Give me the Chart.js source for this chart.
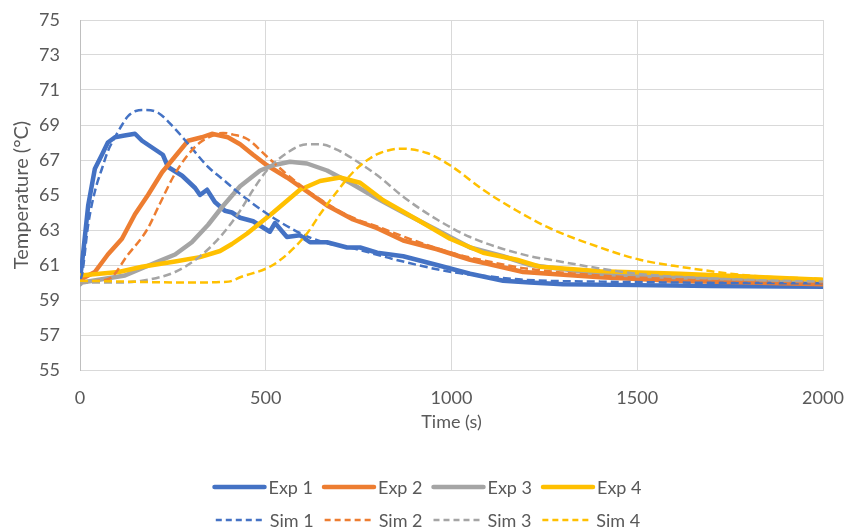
<!DOCTYPE html>
<html>
<head>
<meta charset="utf-8">
<script src="https://cdn.jsdelivr.net/npm/chart.js@4.4.1/dist/chart.umd.min.js"></script>
<style>
  html, body { margin: 0; padding: 0; background: #fff; }
</style>
</head>
<body>
<canvas id="chart-temperature" width="846" height="532"></canvas>
<script>
// values (time in s, temperature in °C)
const exp1Time = [0, 5, 22, 40, 59, 75, 94, 120, 148, 167, 202, 223, 237, 275, 310, 323, 342, 363, 390, 409, 431, 466, 511, 525, 557, 592, 619, 665, 719, 754, 800, 870, 961, 1050, 1139, 1211, 1300, 1500, 1700, 2000];
const exp1Temp = [60.3, 61.0, 64.4, 66.5, 67.3, 68.0, 68.3, 68.4, 68.5, 68.1, 67.6, 67.3, 66.6, 66.1, 65.4, 65.0, 65.3, 64.6, 64.1, 64.0, 63.7, 63.5, 62.9, 63.4, 62.6, 62.7, 62.3, 62.3, 62.0, 62.0, 61.7, 61.5, 61.0, 60.5, 60.1, 60.0, 59.9, 59.85, 59.8, 59.75];

const exp2Time = [0, 13, 40, 75, 113, 148, 183, 221, 256, 291, 328, 355, 398, 431, 466, 503, 557, 611, 665, 735, 800, 870, 961, 1050, 1193, 1400, 1600, 2000];
const exp2Temp = [60.1, 60.3, 60.6, 61.6, 62.5, 63.9, 65.0, 66.3, 67.2, 68.1, 68.3, 68.5, 68.3, 67.9, 67.3, 66.7, 66.0, 65.2, 64.4, 63.6, 63.1, 62.4, 61.9, 61.3, 60.6, 60.3, 60.1, 59.9];

const exp3Time = [0, 5, 121, 210, 256, 301, 345, 382, 431, 485, 520, 565, 611, 665, 727, 800, 870, 961, 1050, 1139, 1211, 1400, 1615, 2000];
const exp3Temp = [59.9, 60.0, 60.4, 61.2, 61.6, 62.3, 63.3, 64.3, 65.5, 66.4, 66.7, 66.9, 66.8, 66.4, 65.7, 64.8, 64.0, 63.0, 62.0, 61.5, 61.0, 60.5, 60.3, 60.1];

const exp4Time = [0, 104, 167, 256, 323, 377, 409, 450, 520, 592, 646, 700, 754, 816, 907, 996, 1085, 1176, 1238, 1400, 1615, 2000];
const exp4Temp = [60.4, 60.6, 60.9, 61.2, 61.45, 61.8, 62.2, 62.8, 64.0, 65.3, 65.8, 66.0, 65.7, 64.7, 63.6, 62.5, 61.7, 61.3, 60.9, 60.65, 60.5, 60.15];

const sim1Time = [0, 5, 22, 40, 59, 75, 94, 113, 129, 150, 175, 210, 255, 300, 345, 390, 417, 520, 627, 754, 850, 1000, 1100, 1200, 1400, 1600, 2000];
const sim1Temp = [60.2, 60.4, 63.3, 65.2, 66.5, 67.5, 68.3, 69.0, 69.5, 69.8, 69.86, 69.7, 68.8, 67.7, 66.6, 65.8, 65.3, 63.7, 62.5, 61.85, 61.3, 60.6, 60.35, 60.15, 60.05, 60.0, 59.95];

const sim2Time = [0, 50, 85, 126, 180, 215, 250, 287, 323, 358, 385, 412, 450, 503, 573, 665, 735, 800, 900, 1000, 1100, 1200, 1400, 1600, 2000];
const sim2Temp = [60.0, 60.1, 60.3, 61.5, 63.0, 64.5, 66.0, 67.2, 68.0, 68.4, 68.55, 68.45, 68.2, 67.2, 65.9, 64.5, 63.7, 63.2, 62.4, 61.7, 61.2, 60.8, 60.4, 60.2, 60.0];

const sim3Time = [0, 100, 167, 256, 323, 377, 431, 466, 503, 557, 611, 646, 700, 754, 808, 870, 961, 1050, 1211, 1265, 1400, 1500, 1800, 2000];
const sim3Temp = [60.0, 60.0, 60.1, 60.6, 61.5, 62.6, 64.1, 65.3, 66.4, 67.4, 67.9, 67.9, 67.5, 66.8, 66.0, 64.9, 63.6, 62.6, 61.5, 61.3, 60.8, 60.5, 60.15, 60.05];

const sim4Time = [0, 300, 400, 431, 511, 557, 611, 646, 681, 735, 781, 808, 862, 934, 996, 1085, 1176, 1265, 1400, 1507, 1615, 1800, 2000];
const sim4Temp = [60.1, 60.0, 60.05, 60.3, 60.9, 61.6, 62.8, 63.9, 64.9, 66.3, 67.1, 67.4, 67.65, 67.4, 66.7, 65.3, 64.1, 63.1, 62.0, 61.3, 60.9, 60.4, 60.2];

const seriesLabels = ['Exp 1', 'Exp 2', 'Exp 3', 'Exp 4', 'Sim 1', 'Sim 2', 'Sim 3', 'Sim 4'];
const seriesColors = ['#4472C4', '#ED7D31', '#A5A5A5', '#FFC000'];

const TEXT_COLOR = '#595959';
const FONT_FAMILY = 'Lato, "Open Sans", sans-serif';

function toPoints(times, temps) {
    return times.map((t, i) => ({ x: t, y: temps[i] }));
}

const allSeries = [
    [exp1Time, exp1Temp], [exp2Time, exp2Temp], [exp3Time, exp3Temp], [exp4Time, exp4Temp],
    [sim1Time, sim1Temp], [sim2Time, sim2Temp], [sim3Time, sim3Temp], [sim4Time, sim4Temp]
];

const datasets = allSeries.map((s, i) => {
    const isSim = i >= 4;
    return {
        label: seriesLabels[i],
        data: toPoints(s[0], s[1]),
        borderColor: seriesColors[i % 4],
        backgroundColor: seriesColors[i % 4],
        borderWidth: isSim ? 2.5 : 4.5,
        borderDash: isSim ? [8, 4] : [],
        borderCapStyle: isSim ? 'butt' : 'round',
        borderJoinStyle: 'round',
        pointRadius: 0,
        cubicInterpolationMode: isSim ? 'monotone' : 'default',
        tension: 0,
        fill: false,
        // later series on top, as in the original
        order: 8 - i
    };
});

// legend in two rows: Exp on the first, Sim on the second
const legendRows = [[0, 1, 2, 3], [4, 5, 6, 7]];

const twoRowLegend = {
    id: 'twoRowLegend',
    afterDraw(chart) {
        const ctx = chart.ctx;
        const sets = chart.data.datasets;
        const sampleLen = 52;
        ctx.save();
        ctx.font = '18px ' + FONT_FAMILY;
        ctx.textBaseline = 'middle';
        ctx.textAlign = 'left';
        legendRows.forEach((row, r) => {
            const y = 487 + r * 33;
            const widths = row.map(i => sampleLen + 4 + ctx.measureText(sets[i].label).width);
            const total = widths.reduce((a, b) => a + b, 0) + 9 * (row.length - 1);
            let x = chart.width / 2 + 4 - total / 2;
            row.forEach((i, k) => {
                const ds = sets[i];
                ctx.beginPath();
                ctx.strokeStyle = ds.borderColor;
                ctx.lineWidth = ds.borderWidth;
                ctx.lineCap = ds.borderCapStyle;
                ctx.setLineDash(ds.borderDash.length ? [6, 4] : []);
                ctx.moveTo(x + 2, y);
                ctx.lineTo(x + sampleLen, y);
                ctx.stroke();
                ctx.setLineDash([]);
                ctx.fillStyle = TEXT_COLOR;
                ctx.fillText(ds.label, x + sampleLen + 4, y + 1);
                x += widths[k] + 9;
            });
        });
        ctx.restore();
    }
};

const ctx = document.getElementById('chart-temperature');
new Chart(ctx, {
    type: 'line',
    data: { datasets: datasets },
    options: {
        responsive: false,
        animation: false,
        devicePixelRatio: 1,
        layout: { padding: { left: 0, right: 23, top: 20, bottom: 87 } },
        plugins: {
            legend: { display: false },
            tooltip: { enabled: false }
        },
        scales: {
            x: {
                type: 'linear',
                min: 0,
                max: 2000,
                ticks: {
                    stepSize: 500,
                    padding: 17,
                    color: TEXT_COLOR,
                    font: { family: FONT_FAMILY, size: 18 },
                    callback: v => String(v)
                },
                grid: { color: '#d9d9d9', drawTicks: false },
                border: { color: '#d9d9d9' },
                title: {
                    display: true,
                    text: 'Time (s)',
                    color: TEXT_COLOR,
                    font: { family: FONT_FAMILY, size: 18 },
                    padding: { top: 0, bottom: 12 }
                },
                afterFit(scale) {
                    scale.height = 75;
                    scale.paddingLeft = 0;
                    scale.paddingRight = 0;
                }
            },
            y: {
                min: 55,
                max: 75,
                ticks: {
                    stepSize: 2,
                    padding: 20,
                    color: TEXT_COLOR,
                    font: { family: FONT_FAMILY, size: 18 }
                },
                grid: { color: '#d9d9d9', drawTicks: false },
                border: { color: '#bfbfbf' },
                title: {
                    display: true,
                    text: 'Temperature (°C)',
                    color: TEXT_COLOR,
                    font: { family: FONT_FAMILY, size: 20 },
                    padding: { top: 10, bottom: 0 }
                },
                afterFit(scale) {
                    scale.width = 80;
                    scale.paddingTop = 0;
                    scale.paddingBottom = 0;
                }
            }
        }
    },
    plugins: [twoRowLegend]
});
</script>
</body>
</html>
